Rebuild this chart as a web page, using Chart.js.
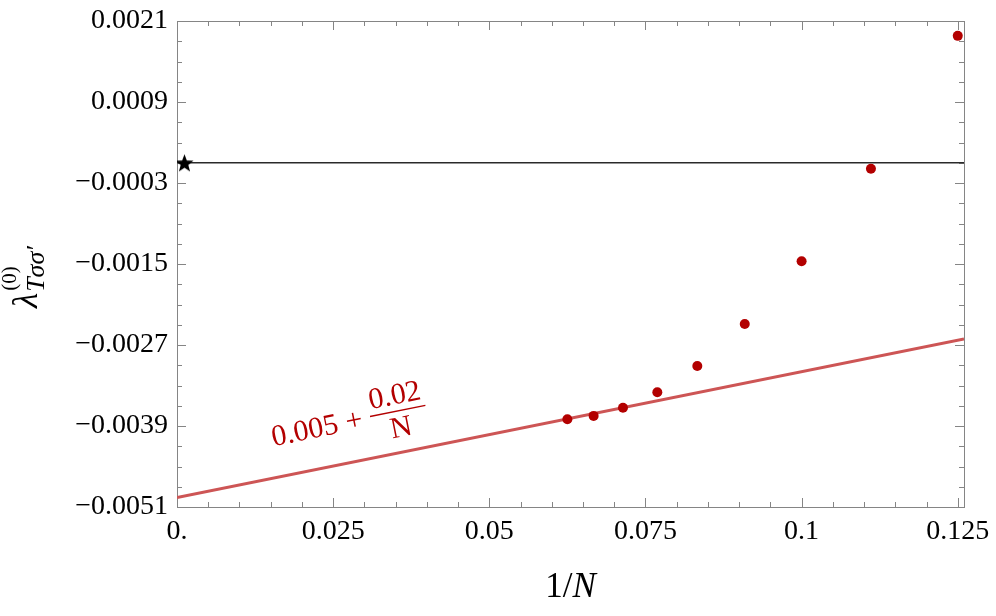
<!DOCTYPE html>
<html>
<head>
<meta charset="utf-8">
<script src="https://cdn.jsdelivr.net/npm/chart.js@4.4.1/dist/chart.umd.min.js"></script>
<style>
  html, body { margin: 0; padding: 0; background: #fff; }
  #wrap { width: 996px; height: 616px; position: relative; }
</style>
</head>
<body>
<div id="wrap"><canvas id="chart"></canvas></div>
<script>
// ── Data ────────────────────────────────────────────────────────────────────
const xVals  = [0.125, 0.1111, 0.1, 0.0909, 0.0833, 0.0769, 0.0714, 0.0667, 0.0625]; // 1/N
const yVals  = [0.00188, -0.00009, -0.00146, -0.00239, -0.00301, -0.0034, -0.00363, -0.00375, -0.0038];
const fitX   = [0, 0.126];
const fitY   = [-0.00496, -0.00261];
const refX   = [0, 0.126];
const refY   = [0, 0];
const starX  = [0.0012];
const starY  = [0];
const xTicks = [0, 0.025, 0.05, 0.075, 0.1, 0.125];
const xTickLabels = ['0.', '0.025', '0.05', '0.075', '0.1', '0.125'];
const yTicks = [-0.0051, -0.0039, -0.0027, -0.0015, -0.0003, 0.0009, 0.0021];
const yTickLabels = ['\u22120.0051', '\u22120.0039', '\u22120.0027', '\u22120.0015', '\u22120.0003', '0.0009', '0.0021'];
const xMinorStep = 0.005;
const yMinorStep = 0.0003;

// ─ Style ────────────────────────────────────────────────────────────────────
const SERIF      = '"Liberation Serif", "DejaVu Serif", serif';
const DOT_COLOR  = '#b30000';
const FIT_COLOR  = '#cd5555';
const FRAME      = '#858585';

// filled five-point star used as the point style
function makeStar(size) {
  const c = document.createElement('canvas');
  c.width = size; c.height = size;
  const g = c.getContext('2d');
  const R = size / 2, r = R * 0.42;
  g.beginPath();
  for (let i = 0; i < 10; i++) {
    const rad = i % 2 ? r : R;
    const a = -Math.PI / 2 + i * Math.PI / 5;
    g.lineTo(R + rad * Math.cos(a), R + 1 + rad * Math.sin(a));
  }
  g.closePath();
  g.fillStyle = '#000';
  g.fill();
  return c;
}

const zip = (xs, ys) => xs.map((x, i) => ({ x, y: ys[i] }));

// ─ Frame, inner ticks and rich-text labels ──────────────────────────────────
const framePlugin = {
  id: 'frame',
  beforeDatasetsDraw(chart) {
    const { ctx, chartArea: a, scales: { x, y } } = chart;
    ctx.save();
    ctx.strokeStyle = FRAME;
    ctx.lineWidth = 1;
    ctx.strokeRect(Math.round(a.left) + 0.5, Math.round(a.top) + 0.5,
                   Math.round(a.right - a.left), Math.round(a.bottom - a.top));
    ctx.beginPath();
    const xn = Math.round(x.max / xMinorStep);
    for (let i = 0; i <= xn; i++) {
      const v = i * xMinorStep;
      const major = xTicks.some(t => Math.abs(t - v) < 1e-9);
      const len = major ? 9 : 5;
      const px = Math.round(x.getPixelForValue(v)) + 0.5;
      ctx.moveTo(px, a.bottom); ctx.lineTo(px, a.bottom - len);
      ctx.moveTo(px, a.top);    ctx.lineTo(px, a.top + len);
    }
    const yn = Math.round((y.max - y.min) / yMinorStep);
    for (let i = 0; i <= yn; i++) {
      const v = y.min + i * yMinorStep;
      const major = yTicks.some(t => Math.abs(t - v) < 1e-9);
      const len = major ? 9 : 5;
      const py = Math.round(y.getPixelForValue(v)) + 0.5;
      ctx.moveTo(a.left, py);  ctx.lineTo(a.left + len, py);
      ctx.moveTo(a.right, py); ctx.lineTo(a.right - len, py);
    }
    ctx.stroke();
    ctx.restore();
  },
  afterDraw(chart) {
    const { ctx, chartArea: a, scales: { x, y } } = chart;
    ctx.save();
    ctx.fillStyle = '#000';
    ctx.textBaseline = 'alphabetic';

    // x title: 1/N
    const cx = (a.left + a.right) / 2;
    ctx.font = '35px ' + SERIF;
    const w1 = ctx.measureText('1/').width;
    ctx.font = 'italic 35px ' + SERIF;
    const w2 = ctx.measureText('N').width;
    let sx = cx - (w1 + w2) / 2;
    ctx.font = '35px ' + SERIF;
    ctx.fillText('1/', sx, 597);
    ctx.font = 'italic 35px ' + SERIF;
    ctx.fillText('N', sx + w1, 597);

    // y title: λ^(0)_{Tσσ'}
    ctx.save();
    ctx.translate(37, 308);
    ctx.rotate(-Math.PI / 2);
    ctx.font = 'italic 35px ' + SERIF;
    ctx.fillText('\u03bb', 0, 0);
    const wl = ctx.measureText('\u03bb').width;
    ctx.font = '21px ' + SERIF;
    ctx.fillText('(0)', wl + 2, -21);
    ctx.font = 'italic 26px ' + SERIF;
    ctx.fillText('T\u03c3\u03c3\u2032', wl + 1, 7);
    ctx.restore();

    // fit label, rotated along the fit line
    const p0x = x.getPixelForValue(fitX[0]), p0y = y.getPixelForValue(fitY[0]);
    const p1x = x.getPixelForValue(fitX[1]), p1y = y.getPixelForValue(fitY[1]);
    const ang = Math.atan2(p1y - p0y, p1x - p0x);
    ctx.save();
    ctx.translate(x.getPixelForValue(0.0309), y.getPixelForValue(-0.00376));
    ctx.rotate(ang);
    ctx.fillStyle = DOT_COLOR;
    ctx.strokeStyle = DOT_COLOR;
    ctx.font = '30px ' + SERIF;
    const wNum = ctx.measureText('0.02').width;
    const wDen = ctx.measureText('N').width;
    const wBar = Math.max(wNum, wDen) + 4;
    const wPlus = ctx.measureText('+').width;
    ctx.textAlign = 'right';
    ctx.fillText('+', -8, 10);
    ctx.fillText('0.005', -8 - wPlus - 8, 10);
    ctx.textAlign = 'center';
    ctx.fillText('0.02', wBar / 2, -7);
    ctx.fillText('N', wBar / 2, 26);
    ctx.lineWidth = 1.4;
    ctx.beginPath();
    ctx.moveTo(0, 0); ctx.lineTo(wBar, 0);
    ctx.stroke();
    ctx.restore();

    ctx.restore();
  }
};

// ─ Chart ────────────────────────────────────────────────────────────────────
new Chart(document.getElementById('chart'), {
  type: 'scatter',
  data: {
    datasets: [
      {
        label: 'data',
        data: zip(xVals, yVals),
        pointRadius: 5,
        pointBackgroundColor: DOT_COLOR,
        pointBorderWidth: 0,
        showLine: false,
      },
      {
        label: 'star',
        data: zip(starX, starY),
        pointStyle: makeStar(19),
        pointRadius: 9,
        showLine: false,
      },
      {
        label: 'fit',
        data: zip(fitX, fitY),
        showLine: true,
        borderColor: FIT_COLOR,
        borderWidth: 3,
        pointRadius: 0,
      },
      {
        label: 'ref',
        data: zip(refX, refY),
        showLine: true,
        borderColor: '#2a2a2a',
        borderWidth: 1.3,
        pointRadius: 0,
      },
    ]
  },
  options: {
    responsive: true,
    maintainAspectRatio: false,
    animation: false,
    devicePixelRatio: 1,
    layout: { padding: { left: 0, right: 32, top: 21, bottom: 0 } },
    plugins: { legend: { display: false }, tooltip: { enabled: false } },
    scales: {
      x: {
        type: 'linear',
        min: 0,
        max: 0.126,
        grid: { display: false, drawTicks: false },
        border: { display: false },
        afterBuildTicks: s => { s.ticks = xTicks.map(v => ({ value: v })); },
        afterFit: s => { s.height = 109; s.paddingLeft = 0; s.paddingRight = 0; },
        ticks: {
          autoSkip: false,
          maxRotation: 0,
          padding: 8,
          color: '#000',
          font: { family: SERIF, size: 28 },
          callback: v => xTickLabels[xTicks.findIndex(t => Math.abs(t - v) < 1e-9)] ?? '',
        },
      },
      y: {
        type: 'linear',
        min: -0.0051,
        max: 0.0021,
        grid: { display: false, drawTicks: false },
        border: { display: false },
        afterBuildTicks: s => { s.ticks = yTicks.map(v => ({ value: v })); },
        afterFit: s => { s.width = 177; s.paddingTop = 0; s.paddingBottom = 0; },
        ticks: {
          autoSkip: false,
          padding: 9,
          color: '#000',
          font: { family: SERIF, size: 28 },
          callback: v => yTickLabels[yTicks.findIndex(t => Math.abs(t - v) < 1e-9)] ?? '',
        },
      },
    }
  },
  plugins: [framePlugin]
});
</script>
</body>
</html>
